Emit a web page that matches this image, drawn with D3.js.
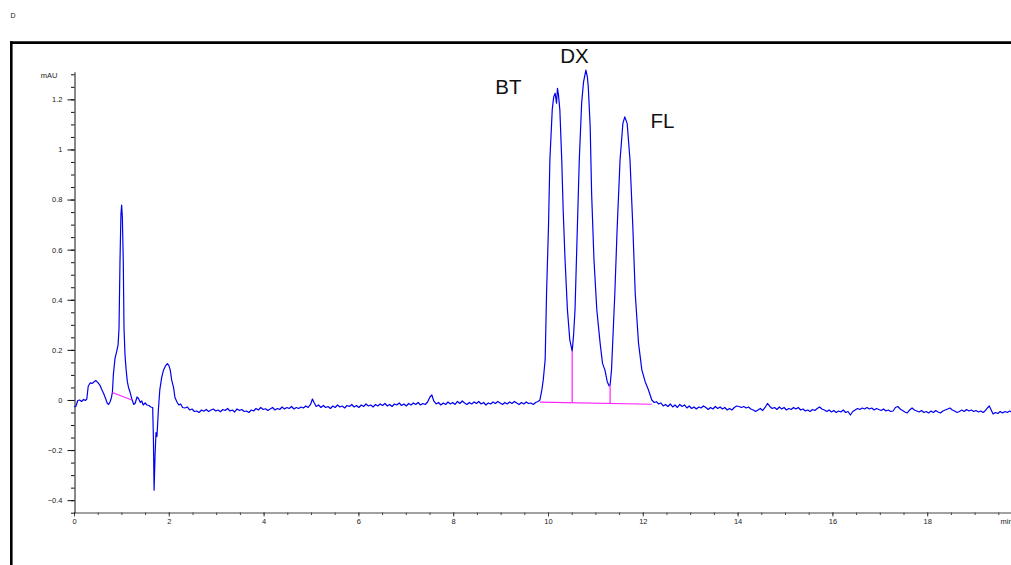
<!DOCTYPE html>
<html lang="en">
<head>
    <meta charset="UTF-8">
    <title>Chromatogram</title>
    <script src="https://cdn.jsdelivr.net/npm/d3@7/dist/d3.min.js"></script>
    <style>
        body { margin: 0; background: #fff; }
        text { font-family: "Liberation Sans", Arial, sans-serif; }
    </style>
</head>
<body>
<script>

    // detector trace, [time (min), signal (mAU)]
    var trace = [
        [0,-0.027],[0.04,-0.025],[0.08,-0.002],[0.12,0.0],[0.16,-0.006],[0.2,0.002],[0.24,-0.002],[0.27,0.004],
        [0.3,0.055],[0.34,0.068],[0.38,0.066],[0.42,0.072],[0.46,0.078],[0.5,0.07],[0.55,0.058],[0.59,0.04],
        [0.63,0.024],[0.67,0.004],[0.7,-0.012],[0.73,-0.018],[0.76,-0.008],[0.79,0.01],[0.81,0.03],[0.83,0.1],
        [0.865,0.166],[0.9,0.193],[0.93,0.22],[0.95,0.287],[0.97,0.55],[0.99,0.74],[1.005,0.778],[1.02,0.73],
        [1.04,0.55],[1.055,0.287],[1.076,0.18],[1.1,0.12],[1.125,0.073],[1.15,0.05],[1.18,0.033],[1.22,0.004],
        [1.26,-0.018],[1.29,-0.013],[1.33,0.012],[1.36,0.006],[1.4,-0.01],[1.43,-0.004],[1.46,-0.02],[1.5,-0.012],
        [1.54,-0.02],[1.58,-0.022],[1.62,-0.028],[1.66,-0.03],[1.675,-0.15],[1.69,-0.36],[1.71,-0.22],[1.73,-0.13],
        [1.75,-0.146],[1.78,-0.04],[1.81,0.04],[1.85,0.09],[1.89,0.12],[1.93,0.136],[1.97,0.145],[2.0,0.138],
        [2.03,0.12],[2.06,0.08],[2.1,0.05],[2.13,0.01],[2.17,-0.007],[2.21,-0.02],[2.25,-0.016],[2.29,-0.03],
        [2.34,-0.032],[2.39,-0.028],[2.44,-0.04],[2.49,-0.036],[2.54,-0.046],[2.59,-0.044],[2.64,-0.05],[2.69,-0.04],
        [2.74,-0.045],[2.79,-0.038],[2.84,-0.046],[2.89,-0.04],[2.94,-0.036],[2.99,-0.044],[3.04,-0.04],[3.09,-0.047],
        [3.14,-0.038],[3.19,-0.042],[3.24,-0.034],[3.29,-0.044],[3.34,-0.04],[3.39,-0.048],[3.44,-0.036],[3.49,-0.042],
        [3.54,-0.038],[3.59,-0.046],[3.64,-0.044],[3.69,-0.05],[3.74,-0.04],[3.79,-0.044],[3.84,-0.034],[3.89,-0.04],
        [3.94,-0.03],[3.99,-0.038],[4.04,-0.035],[4.09,-0.042],[4.14,-0.036],[4.19,-0.03],[4.24,-0.04],[4.29,-0.034],
        [4.34,-0.038],[4.39,-0.028],[4.44,-0.036],[4.49,-0.03],[4.54,-0.034],[4.59,-0.026],[4.64,-0.036],[4.69,-0.03],
        [4.74,-0.034],[4.79,-0.028],[4.84,-0.032],[4.89,-0.024],[4.94,-0.03],[4.99,-0.018],[5.03,0.004],[5.07,-0.012],
        [5.11,-0.026],[5.16,-0.02],[5.21,-0.03],[5.26,-0.022],[5.31,-0.03],[5.36,-0.026],[5.41,-0.034],[5.46,-0.024],
        [5.51,-0.03],[5.56,-0.02],[5.61,-0.028],[5.66,-0.024],[5.71,-0.032],[5.76,-0.022],[5.81,-0.026],[5.86,-0.018],
        [5.91,-0.028],[5.96,-0.022],[6.01,-0.03],[6.06,-0.02],[6.11,-0.026],[6.16,-0.016],[6.21,-0.024],[6.26,-0.02],
        [6.31,-0.028],[6.36,-0.018],[6.41,-0.024],[6.46,-0.016],[6.51,-0.022],[6.56,-0.014],[6.61,-0.024],[6.66,-0.018],
        [6.71,-0.026],[6.76,-0.016],[6.81,-0.02],[6.86,-0.012],[6.91,-0.022],[6.96,-0.016],[7.01,-0.024],[7.06,-0.014],
        [7.11,-0.02],[7.16,-0.012],[7.21,-0.018],[7.26,-0.01],[7.31,-0.02],[7.36,-0.014],[7.41,-0.018],[7.46,-0.008],
        [7.51,0.012],[7.55,0.02],[7.59,-0.004],[7.64,-0.016],[7.69,-0.01],[7.74,-0.02],[7.79,-0.012],[7.84,-0.018],
        [7.89,-0.008],[7.94,-0.016],[7.99,-0.01],[8.04,-0.018],[8.09,-0.006],[8.14,-0.014],[8.19,-0.004],[8.24,-0.012],
        [8.29,-0.018],[8.34,-0.01],[8.39,-0.016],[8.44,-0.008],[8.49,-0.014],[8.54,-0.006],[8.59,-0.016],[8.64,-0.01],
        [8.69,-0.02],[8.74,-0.012],[8.79,-0.016],[8.84,-0.008],[8.89,-0.014],[8.94,-0.006],[8.99,-0.012],[9.04,-0.018],
        [9.09,-0.01],[9.14,-0.016],[9.19,-0.008],[9.24,-0.014],[9.29,-0.006],[9.34,-0.012],[9.39,-0.018],[9.44,-0.01],
        [9.49,-0.016],[9.54,-0.008],[9.59,-0.014],[9.64,-0.012],[9.69,-0.018],[9.74,-0.01],[9.79,-0.006],[9.83,0.0],
        [9.87,0.04],[9.9,0.08],[9.94,0.16],[9.97,0.43],[10.01,0.69],[10.04,0.96],[10.09,1.16],[10.12,1.21],
        [10.15,1.224],[10.18,1.185],[10.2,1.244],[10.22,1.22],[10.25,1.158],[10.29,0.958],[10.32,0.758],[10.36,0.559],
        [10.41,0.359],[10.46,0.24],[10.51,0.195],[10.54,0.26],[10.57,0.36],[10.61,0.626],[10.66,0.958],[10.71,1.185],
        [10.75,1.27],[10.8,1.317],[10.83,1.29],[10.85,1.25],[10.89,1.09],[10.92,0.825],[10.97,0.559],[11.03,0.359],
        [11.1,0.226],[11.15,0.146],[11.2,0.12],[11.25,0.073],[11.29,0.056],[11.31,0.06],[11.34,0.12],[11.41,0.426],
        [11.46,0.69],[11.52,0.958],[11.58,1.104],[11.62,1.13],[11.67,1.104],[11.73,0.958],[11.79,0.69],[11.84,0.426],
        [11.91,0.226],[11.98,0.12],[12.05,0.073],[12.12,0.04],[12.19,0.0],[12.24,-0.01],[12.29,-0.007],
        [12.33,-0.016],[12.38,-0.012],[12.43,-0.024],[12.48,-0.018],[12.53,-0.026],[12.58,-0.016],[12.63,-0.028],[12.68,-0.02],
        [12.73,-0.03],[12.78,-0.018],[12.83,-0.026],[12.88,-0.02],[12.93,-0.032],[12.98,-0.024],[13.03,-0.034],[13.08,-0.028],
        [13.13,-0.036],[13.18,-0.028],[13.23,-0.032],[13.28,-0.024],[13.33,-0.03],[13.38,-0.038],[13.43,-0.03],[13.48,-0.036],
        [13.53,-0.026],[13.58,-0.034],[13.63,-0.028],[13.68,-0.036],[13.73,-0.03],[13.78,-0.04],[13.83,-0.034],[13.88,-0.04],
        [13.93,-0.03],[13.98,-0.024],[14.03,-0.026],[14.08,-0.03],[14.13,-0.026],[14.18,-0.032],[14.23,-0.028],[14.28,-0.036],
        [14.33,-0.04],[14.38,-0.046],[14.43,-0.04],[14.48,-0.034],[14.53,-0.042],[14.58,-0.03],[14.63,-0.014],[14.68,-0.026],
        [14.73,-0.034],[14.78,-0.03],[14.83,-0.038],[14.88,-0.028],[14.93,-0.036],[14.98,-0.03],[15.03,-0.04],[15.08,-0.034],
        [15.13,-0.038],[15.18,-0.03],[15.23,-0.036],[15.28,-0.03],[15.33,-0.04],[15.38,-0.036],[15.43,-0.044],[15.48,-0.04],
        [15.53,-0.046],[15.58,-0.038],[15.63,-0.042],[15.68,-0.034],[15.73,-0.028],[15.78,-0.036],[15.83,-0.04],[15.88,-0.046],
        [15.93,-0.04],[15.98,-0.048],[16.03,-0.042],[16.08,-0.05],[16.13,-0.044],[16.18,-0.048],[16.23,-0.04],[16.28,-0.05],
        [16.33,-0.046],[16.38,-0.06],[16.43,-0.046],[16.48,-0.04],[16.53,-0.034],[16.58,-0.038],[16.63,-0.032],[16.68,-0.036],
        [16.73,-0.03],[16.78,-0.036],[16.83,-0.032],[16.88,-0.04],[16.93,-0.034],[16.98,-0.038],[17.03,-0.042],[17.08,-0.036],
        [17.13,-0.044],[17.18,-0.04],[17.23,-0.046],[17.28,-0.044],[17.33,-0.03],[17.38,-0.026],[17.43,-0.036],[17.48,-0.042],
        [17.53,-0.048],[17.58,-0.052],[17.63,-0.04],[17.68,-0.032],[17.73,-0.04],[17.78,-0.044],[17.83,-0.048],[17.88,-0.042],
        [17.93,-0.05],[17.98,-0.046],[18.03,-0.052],[18.08,-0.044],[18.13,-0.05],[18.18,-0.042],[18.23,-0.048],[18.28,-0.052],
        [18.33,-0.044],[18.38,-0.04],[18.43,-0.036],[18.48,-0.032],[18.53,-0.04],[18.58,-0.044],[18.63,-0.05],[18.68,-0.046],
        [18.73,-0.04],[18.78,-0.046],[18.83,-0.038],[18.88,-0.044],[18.93,-0.04],[18.98,-0.046],[19.03,-0.042],[19.08,-0.048],
        [19.13,-0.044],[19.18,-0.05],[19.23,-0.042],[19.28,-0.03],[19.31,-0.024],[19.35,-0.04],[19.39,-0.056],[19.44,-0.05],
        [19.49,-0.054],[19.54,-0.046],[19.59,-0.052],[19.64,-0.046],[19.69,-0.05],[19.74,-0.044],[19.79,-0.05],[19.84,-0.046],
        [19.9,-0.05],[19.95,-0.048],[20.0,-0.05]
    ];

    // integration baselines [t0, v0, t1, v1]
    var baselines = [[0.81, 0.03, 1.22, 0.0], [9.83, -0.009, 12.19, -0.017]];
    // drop lines between overlapping peaks [time, valley value]
    var drops = [[10.51, 0.195], [11.31, 0.06]];

    // named peaks
    var peakNames = ["BT", "DX", "FL"];
    var peakTimes = [10.2, 10.8, 11.62];
    var peakHeights = [1.244, 1.317, 1.131];

    var xMajor = [0, 2, 4, 6, 8, 10, 12, 14, 16, 18];
    var yMajor = [-0.4, -0.2, 0, 0.2, 0.4, 0.6, 0.8, 1, 1.2];

    var width = 1011;
    var height = 565;
    var svg = d3.select("body")
        .append("svg")
        .attr("width", width)
        .attr("height", height);

    // scales
    var x = d3.scaleLinear().domain([0, 20]).range([74, 1022]);
    var y = d3.scaleLinear().domain([-0.45, 1.31]).range([512.7, 71.8]);

    // panel letter
    svg.append("text")
        .attr("x", 10.5)
        .attr("y", 18.3)
        .style("font-size", "7px")
        .style("fill", "#222")
        .text("D");

    // outer frame
    svg.append("line")
        .attr("x1", 10).attr("x2", width)
        .attr("y1", 42.6).attr("y2", 42.6)
        .style("stroke", "#000").style("stroke-width", 2.6);
    svg.append("line")
        .attr("x1", 11.3).attr("x2", 11.3)
        .attr("y1", 41.3).attr("y2", height)
        .style("stroke", "#000").style("stroke-width", 2.6);

    // minor ticks
    var xMinor = d3.range(0, 20.01, 0.5);
    var yMinor = d3.range(-0.45, 1.301, 0.05);

    svg.append("g")
        .attr("transform", "translate(0,512.5)")
        .call(d3.axisBottom(x).tickValues(xMinor).tickSize(2.5).tickSizeOuter(0).tickFormat(""))
        .call(function (g) {
            g.select(".domain").style("stroke", "#444");
            g.selectAll(".tick line").style("stroke", "#444");
        });

    svg.append("g")
        .attr("transform", "translate(0,512.5)")
        .call(d3.axisBottom(x).tickValues(xMajor).tickSize(4).tickSizeOuter(0).tickPadding(2))
        .call(function (g) {
            g.select(".domain").remove();
            g.selectAll(".tick line").style("stroke", "#444");
            g.selectAll("text")
                .style("font-size", "7.5px")
                .style("font-family", "'Liberation Sans', Arial, sans-serif")
                .style("fill", "#222");
        });

    // x unit label, cut by the right edge
    svg.append("text")
        .attr("x", 1000.5)
        .attr("y", 523.5)
        .style("font-size", "7.5px")
        .style("fill", "#222")
        .text("min");

    svg.append("g")
        .attr("transform", "translate(74.5,0)")
        .call(d3.axisLeft(y).tickValues(yMinor).tickSize(3.5).tickSizeOuter(0).tickFormat(""))
        .call(function (g) {
            g.select(".domain").style("stroke", "#111");
            g.selectAll(".tick line").style("stroke", "#111");
        });

    svg.append("g")
        .attr("transform", "translate(74.5,0)")
        .call(d3.axisLeft(y).tickValues(yMajor).tickSize(7).tickSizeOuter(0).tickPadding(5)
            .tickFormat(function (d) { return d3.format("~g")(d); }))
        .call(function (g) {
            g.select(".domain").remove();
            g.selectAll(".tick line").style("stroke", "#111");
            g.selectAll("text")
                .style("font-size", "7.5px")
                .style("font-family", "'Liberation Sans', Arial, sans-serif")
                .style("fill", "#222");
        });

    // y unit label
    svg.append("text")
        .attr("x", 57.5)
        .attr("y", 78.2)
        .attr("text-anchor", "end")
        .style("font-size", "7.5px")
        .style("fill", "#222")
        .text("mAU");

    // signal
    var line = d3.line()
        .x(function (d) { return x(d[0]); })
        .y(function (d) { return y(d[1]); });

    svg.append("path")
        .datum(trace)
        .attr("d", line)
        .style("fill", "none")
        .style("stroke", "#0000f0")
        .style("stroke-width", 1.2)
        .style("stroke-linejoin", "round");

    // integration marks
    svg.selectAll(".base")
        .data(baselines)
        .enter()
        .append("line")
        .attr("class", "base")
        .attr("x1", function (d) { return x(d[0]); })
        .attr("y1", function (d) { return y(d[1]); })
        .attr("x2", function (d) { return x(d[2]); })
        .attr("y2", function (d) { return y(d[3]); })
        .style("stroke", "#ff20ff")
        .style("stroke-width", 1.2);

    var mainBase = baselines[1];
    function baseAt(t) {
        var k = (t - mainBase[0]) / (mainBase[2] - mainBase[0]);
        return mainBase[1] + k * (mainBase[3] - mainBase[1]);
    }

    svg.selectAll(".drop")
        .data(drops)
        .enter()
        .append("line")
        .attr("class", "drop")
        .attr("x1", function (d) { return x(d[0]); })
        .attr("x2", function (d) { return x(d[0]); })
        .attr("y1", function (d) { return y(d[1]); })
        .attr("y2", function (d) { return y(baseAt(d[0])); })
        .style("stroke", "#ff20ff")
        .style("stroke-width", 1.2);

    // peak names
    var labelDx = [-36, -11.5, 25.7];
    var labelDy = [5.7, -6.7, 11.6];
    var labelAnchor = ["end", "middle", "start"];

    svg.selectAll(".peak")
        .data(peakNames)
        .enter()
        .append("text")
        .attr("class", "peak")
        .attr("x", function (d, i) { return x(peakTimes[i]) + labelDx[i]; })
        .attr("y", function (d, i) { return y(peakHeights[i]) + labelDy[i]; })
        .attr("text-anchor", function (d, i) { return labelAnchor[i]; })
        .style("font-size", "20.5px")
        .style("fill", "#111")
        .text(function (d) { return d; });

</script>
</body>
</html>
